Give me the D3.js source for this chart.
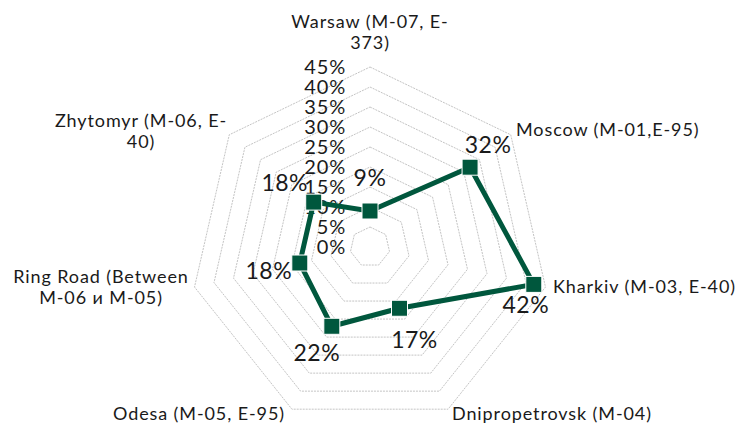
<!DOCTYPE html>
<meta charset="utf-8">
<style>
  body { margin: 0; background: #fff; }
  text { font-family: "Lato", "DejaVu Sans", sans-serif; fill: #1a1a1a; }
</style>
<body>
<script src="https://d3js.org/d3.v7.min.js"></script>
<script>

// Chart data
var categories = ["Warsaw (M-07, E-373)", "Moscow (M-01,E-95)", "Kharkiv (M-03, E-40)",
                  "Dnipropetrovsk (M-04)", "Odesa (M-05, E-95)",
                  "Ring Road (Between M-06 и M-05)", "Zhytomyr (M-06, E-40)"];
// category labels as wrapped in the chart
var categoryLines = [["Warsaw (M-07, E-", "373)"], ["Moscow (M-01,E-95)"], ["Kharkiv (M-03, E-40)"],
                     ["Dnipropetrovsk (M-04)"], ["Odesa (M-05, E-95)"],
                     ["Ring Road (Between", "M-06 и M-05)"], ["Zhytomyr (M-06, E-", "40)"]];
var values = [0.09, 0.32, 0.42, 0.17, 0.22, 0.18, 0.18];
var ticks = [0, 0.05, 0.10, 0.15, 0.20, 0.25, 0.30, 0.35, 0.40, 0.45];

var width = 745, height = 428;
var cx = 370, cy = 247, radius = 180;
var green = "#00573d";

var svg = d3.select("body").append("svg")
    .attr("width", width)
    .attr("height", height);

var g = svg.append("g").attr("transform", "translate(" + cx + "," + cy + ")");

var r = d3.scaleLinear().domain([0, 0.45]).range([0, radius]);
var angle = d3.scaleLinear().domain([0, categories.length]).range([0, 2 * Math.PI]);
var fmt = d3.format(".0%");

function pt(i, v) {
  var a = angle(i);
  return [r(v) * Math.sin(a), -r(v) * Math.cos(a)];
}

// grid rings (heptagons)
g.selectAll(".ring")
    .data(ticks.slice(1))
  .enter().append("polygon")
    .attr("class", "ring")
    .attr("points", function(t) {
      return categories.map(function(c, i) { return pt(i, t).join(","); }).join(" ");
    })
    .attr("fill", "none")
    .attr("stroke", "#c4c4c4")
    .attr("stroke-width", 1)
    .attr("stroke-dasharray", "2,1");

// tick labels along the vertical axis
g.selectAll(".tick")
    .data(ticks)
  .enter().append("text")
    .attr("class", "tick")
    .attr("x", -24)
    .attr("y", function(t) { return -r(t); })
    .attr("dy", "0.35em")
    .attr("text-anchor", "end")
    .style("font-size", "20px")
    .style("letter-spacing", "0.8px")
    .text(fmt);

// data line
var line = d3.line().curve(d3.curveLinearClosed);
g.append("path")
    .datum(values)
    .attr("d", line(values.map(function(v, i) { return pt(i, v); })))
    .attr("fill", "none")
    .attr("stroke", green)
    .attr("stroke-width", 5)
    .attr("stroke-linejoin", "round");

// markers
g.selectAll(".marker")
    .data(values)
  .enter().append("rect")
    .attr("class", "marker")
    .attr("x", function(v, i) { return pt(i, v)[0] - 8; })
    .attr("y", function(v, i) { return pt(i, v)[1] - 8; })
    .attr("width", 16)
    .attr("height", 16)
    .attr("fill", green)
    .attr("stroke", "#ffffff")
    .attr("stroke-width", 1);

// data labels (offsets from the marker)
var labelOffsets = [[0, -33], [18, -22], [-8, 21], [15, 32], [-15, 27], [-31, 8], [-29, -19]];
g.selectAll(".dlabel")
    .data(values)
  .enter().append("text")
    .attr("class", "dlabel")
    .attr("x", function(v, i) { return pt(i, v)[0] + labelOffsets[i][0]; })
    .attr("y", function(v, i) { return pt(i, v)[1] + labelOffsets[i][1]; })
    .attr("dy", "0.35em")
    .attr("text-anchor", "middle")
    .style("font-size", "23px")
    .style("letter-spacing", "0.5px")
    .text(fmt);

// category labels
var catPos = [[370, 28, "middle"], [516, 136, "start"], [553, 293, "start"],
              [452, 420, "start"], [113, 420, "start"], [101, 283, "middle"], [141, 127, "middle"]];
categoryLines.forEach(function(lines, i) {
  var t = svg.append("text")
      .attr("x", catPos[i][0])
      .attr("y", catPos[i][1])
      .attr("text-anchor", catPos[i][2])
      .style("font-size", "18px")
      .style("letter-spacing", "0.9px");
  lines.forEach(function(l, k) {
    t.append("tspan")
      .attr("x", catPos[i][0])
      .attr("dy", k === 0 ? 0 : 21)
      .text(l);
  });
});

</script>
</body>
